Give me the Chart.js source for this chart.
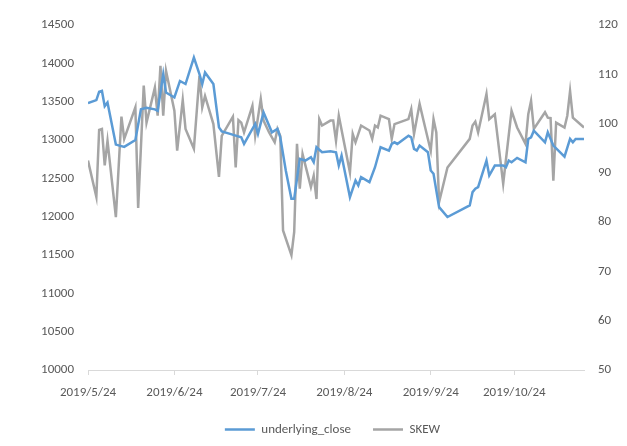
<!DOCTYPE html>
<html>
<head>
<meta charset="utf-8">
<script src="https://cdn.jsdelivr.net/npm/chart.js@4.4.0/dist/chart.umd.min.js"></script>
<style>
  html, body { margin: 0; padding: 0; background: #fff; }
  #wrap { width: 627px; height: 446px; }
</style>
</head>
<body>
<div id="wrap"><canvas id="skewChart" width="627" height="446"></canvas></div>
<script>
// --- data ---
const START_DATE = "2019/5/24";
const END_DATE = "2019/11/18";

const CLOSE_DATES = [
  "2019/5/24", "2019/5/27", "2019/5/28", "2019/5/29", "2019/5/30", "2019/5/31",
  "2019/6/3", "2019/6/6", "2019/6/10", "2019/6/12", "2019/6/14", "2019/6/17",
  "2019/6/18", "2019/6/20", "2019/6/21", "2019/6/24", "2019/6/26", "2019/6/28",
  "2019/7/1", "2019/7/3", "2019/7/4", "2019/7/5", "2019/7/8", "2019/7/10",
  "2019/7/11", "2019/7/14", "2019/7/16", "2019/7/18", "2019/7/19", "2019/7/23",
  "2019/7/24", "2019/7/26", "2019/7/29", "2019/7/31", "2019/8/1", "2019/8/3",
  "2019/8/5", "2019/8/6", "2019/8/8", "2019/8/10", "2019/8/12", "2019/8/13",
  "2019/8/14", "2019/8/16", "2019/8/19", "2019/8/21", "2019/8/22", "2019/8/23",
  "2019/8/26", "2019/8/28", "2019/8/29", "2019/8/30", "2019/9/2", "2019/9/4",
  "2019/9/6", "2019/9/9", "2019/9/10", "2019/9/11", "2019/9/12", "2019/9/16",
  "2019/9/17", "2019/9/18", "2019/9/19", "2019/9/20", "2019/9/23", "2019/9/24",
  "2019/9/25", "2019/9/27", "2019/9/30", "2019/10/8", "2019/10/9", "2019/10/10",
  "2019/10/11", "2019/10/14", "2019/10/15", "2019/10/17", "2019/10/20", "2019/10/21",
  "2019/10/22", "2019/10/23", "2019/10/25", "2019/10/28", "2019/10/29", "2019/10/30",
  "2019/10/31", "2019/11/4", "2019/11/5", "2019/11/7", "2019/11/11", "2019/11/13",
  "2019/11/14", "2019/11/15", "2019/11/18",
];
const CLOSE_VALUES = [
  13480, 13520, 13630, 13640, 13440, 13490,
  12940, 12910, 13000, 13400, 13420, 13400,
  13380, 13860, 13620, 13555, 13770, 13730,
  14075, 13860, 13730, 13880, 13730, 13165,
  13113, 13080, 13057, 13035, 12950, 13210,
  13080, 13360, 13100, 13144, 13035, 12600,
  12234, 12234, 12754, 12732, 12775, 12710,
  12905, 12840, 12853, 12840, 12667, 12797,
  12255, 12472, 12407, 12515, 12450, 12645,
  12905, 12862, 12949, 12970, 12949, 13057,
  13035, 12884, 12862, 12927, 12840, 12602,
  12559, 12125, 11995, 12147, 12320, 12364,
  12385, 12732, 12537, 12667, 12667, 12645,
  12732, 12710, 12767, 12710, 13014, 13035,
  13122, 12970, 13100, 12927, 12784, 13014,
  12970, 13014, 13014,
];

const SKEW_DATES = [
  "2019/5/24", "2019/5/27", "2019/5/28", "2019/5/29", "2019/5/30", "2019/5/31",
  "2019/6/3", "2019/6/5", "2019/6/6", "2019/6/10", "2019/6/11", "2019/6/13",
  "2019/6/14", "2019/6/17", "2019/6/18", "2019/6/19", "2019/6/20", "2019/6/21",
  "2019/6/24", "2019/6/25", "2019/6/27", "2019/6/28", "2019/7/1", "2019/7/3",
  "2019/7/4", "2019/7/5", "2019/7/8", "2019/7/10", "2019/7/11", "2019/7/15",
  "2019/7/16", "2019/7/17", "2019/7/18", "2019/7/19", "2019/7/22", "2019/7/23",
  "2019/7/25", "2019/7/26", "2019/7/28", "2019/7/30", "2019/7/31", "2019/8/1",
  "2019/8/2", "2019/8/5", "2019/8/6", "2019/8/7", "2019/8/8", "2019/8/9",
  "2019/8/12", "2019/8/13", "2019/8/14", "2019/8/15", "2019/8/16", "2019/8/19",
  "2019/8/20", "2019/8/21", "2019/8/22", "2019/8/26", "2019/8/27", "2019/8/28",
  "2019/8/30", "2019/9/2", "2019/9/3", "2019/9/4", "2019/9/5", "2019/9/6",
  "2019/9/9", "2019/9/10", "2019/9/11", "2019/9/16", "2019/9/17", "2019/9/18",
  "2019/9/20", "2019/9/22", "2019/9/24", "2019/9/25", "2019/9/26", "2019/9/27",
  "2019/9/30", "2019/10/8", "2019/10/9", "2019/10/10", "2019/10/11", "2019/10/14",
  "2019/10/15", "2019/10/17", "2019/10/20", "2019/10/23", "2019/10/25", "2019/10/28",
  "2019/10/29", "2019/10/30", "2019/10/31", "2019/11/4", "2019/11/5", "2019/11/6",
  "2019/11/7", "2019/11/8", "2019/11/11", "2019/11/12", "2019/11/13", "2019/11/14",
  "2019/11/18",
];
const SKEW_VALUES = [
  92.5, 85.1, 98.7, 98.9, 91.5, 96.5,
  81.0, 101.4, 96.9, 103.3, 82.9, 107.7,
  100.2, 107.3, 101.6, 111.7, 101.6, 110.7,
  102.6, 94.5, 104.8, 98.9, 94.9, 109.7,
  103.3, 105.6, 99.9, 89.2, 97.5, 101.4,
  91.1, 100.7, 100.2, 98.2, 103.6, 97.5,
  105.0, 100.6, 98.2, 96.2, 98.9, 97.5,
  78.3, 73.3, 78.0, 95.9, 86.8, 93.8,
  87.1, 89.4, 84.7, 100.9, 99.6, 100.6,
  100.6, 96.5, 101.6, 90.1, 97.9, 96.2,
  99.6, 98.6, 96.9, 99.6, 99.2, 101.6,
  100.9, 96.9, 99.9, 100.9, 102.9, 97.9,
  104.0, 99.2, 94.5, 100.9, 98.2, 84.1,
  91.1, 96.9, 99.6, 100.4, 98.2, 106.0,
  100.9, 101.9, 87.8, 102.6, 99.2, 95.9,
  101.9, 104.6, 98.9, 102.3, 101.2, 101.1,
  88.4, 100.2, 99.2, 101.6, 106.6, 101.2,
  99.2,
];

const X_TICK_LABELS = ["2019/5/24", "2019/6/24", "2019/7/24", "2019/8/24", "2019/9/24", "2019/10/24"];
const LEFT_TICKS = { min: 10000, max: 14500, step: 500 };
const RIGHT_TICKS = { min: 50, max: 120, step: 10 };

// --- helpers ---
const FONT_FAMILY = "Carlito, 'Liberation Sans Narrow', 'DejaVu Sans Condensed', sans-serif";
const TEXT_COLOR = "#595959";
const AXIS_COLOR = "#d9d9d9";

function dayOffset(str) {
  const p = str.split("/").map(Number);
  const s = START_DATE.split("/").map(Number);
  return Math.round((Date.UTC(p[0], p[1] - 1, p[2]) - Date.UTC(s[0], s[1] - 1, s[2])) / 86400000);
}

function toPoints(dates, values) {
  return dates.map((d, i) => ({ x: dayOffset(d), y: values[i] }));
}

const tickDays = X_TICK_LABELS.map(dayOffset);

const chartData = {
  datasets: [
    {
      label: "underlying_close",
      data: toPoints(CLOSE_DATES, CLOSE_VALUES),
      borderColor: "#5b9bd5",
      backgroundColor: "#5b9bd5",
      borderWidth: 2.5,
      pointRadius: 0,
      tension: 0,
      yAxisID: "yLeft",
    },
    {
      label: "SKEW",
      data: toPoints(SKEW_DATES, SKEW_VALUES),
      borderColor: "#a5a5a5",
      backgroundColor: "#a5a5a5",
      borderWidth: 2.5,
      pointRadius: 0,
      tension: 0,
      yAxisID: "yRight",
    },
  ],
};

const plainNumber = (value) => String(value);

new Chart(document.getElementById("skewChart").getContext("2d"), {
  type: "line",
  data: chartData,
  options: {
    responsive: false,
    animation: false,
    layout: { padding: { top: 25, left: 38, right: 0, bottom: 0 } },
    scales: {
      x: {
        type: "linear",
        min: 0,
        max: dayOffset(END_DATE),
        afterBuildTicks: (scale) => {
          scale.ticks = tickDays.map((v) => ({ value: v }));
        },
        afterFit: (scale) => {
          scale.height = 31;
        },
        ticks: {
          autoSkip: false,
          maxRotation: 0,
          padding: 10,
          color: TEXT_COLOR,
          font: { family: FONT_FAMILY, size: 13 },
          callback: (value) => X_TICK_LABELS[tickDays.indexOf(value)],
        },
        grid: { drawOnChartArea: false, drawTicks: true, tickLength: 5, color: AXIS_COLOR },
        border: { color: AXIS_COLOR, width: 1 },
      },
      yLeft: {
        position: "left",
        min: LEFT_TICKS.min,
        max: LEFT_TICKS.max,
        afterFit: (scale) => {
          scale.width = 50;
        },
        ticks: {
          stepSize: LEFT_TICKS.step,
          padding: 14,
          color: TEXT_COLOR,
          font: { family: FONT_FAMILY, size: 13 },
          callback: plainNumber,
        },
        grid: { display: false, drawTicks: false },
        border: { display: false },
      },
      yRight: {
        position: "right",
        min: RIGHT_TICKS.min,
        max: RIGHT_TICKS.max,
        afterFit: (scale) => {
          scale.width = 43;
        },
        ticks: {
          stepSize: RIGHT_TICKS.step,
          padding: 14,
          color: TEXT_COLOR,
          font: { family: FONT_FAMILY, size: 13 },
          callback: plainNumber,
        },
        grid: { display: false, drawTicks: false },
        border: { display: false },
      },
    },
    plugins: {
      legend: {
        position: "bottom",
        labels: {
          usePointStyle: true,
          pointStyle: "line",
          pointStyleWidth: 30,
          padding: 22,
          color: TEXT_COLOR,
          font: { family: FONT_FAMILY, size: 13 },
        },
      },
      tooltip: { enabled: false },
    },
  },
});
</script>
</body>
</html>
